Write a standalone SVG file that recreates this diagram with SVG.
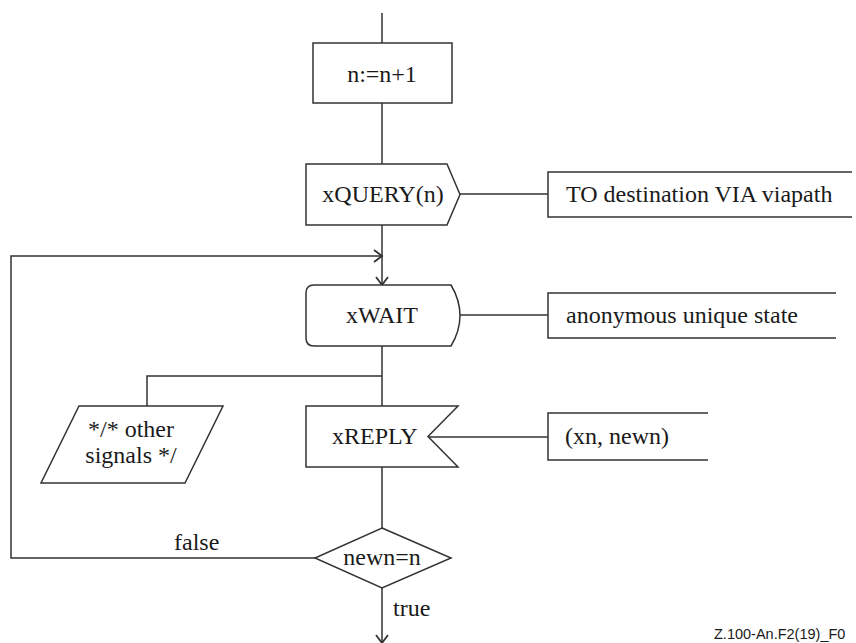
<svg xmlns="http://www.w3.org/2000/svg" width="856" height="643" viewBox="0 0 856 643">
<defs>
<style>
.s{fill:#fff;stroke:#333;stroke-width:1.5}
.c{fill:none;stroke:#333;stroke-width:1.5}
.t{font-family:"Liberation Serif","Times New Roman",serif;font-size:24px;fill:#1a1a1a}
.m{text-anchor:middle}
.f{font-family:"Liberation Sans",Arial,sans-serif;font-size:14.5px;fill:#1a1a1a}
</style>
<marker id="arr" markerWidth="14" markerHeight="14" refX="12" refY="7" orient="auto" markerUnits="userSpaceOnUse">
<path d="M4,1 L12,7 L4,13" fill="none" stroke="#333" stroke-width="1.8"/>
</marker>
</defs>
<rect width="856" height="643" fill="#fff"/>
<g id="connectors">
<line class="c" x1="382" y1="13" x2="382" y2="43"/>
<line class="c" x1="382" y1="103" x2="382" y2="164"/>
<line class="c" x1="382" y1="225" x2="382" y2="285" marker-end="url(#arr)"/>
<polyline class="c" points="315,558 11,558 11,256 382,256" marker-end="url(#arr)"/>
<line class="c" x1="460" y1="194" x2="548" y2="194"/>
<line class="c" x1="458" y1="315" x2="548" y2="315"/>
<line class="c" x1="382" y1="346" x2="382" y2="406"/>
<polyline class="c" points="382,376 147,376 147,406"/>
<line class="c" x1="428" y1="437" x2="548" y2="437"/>
<line class="c" x1="382" y1="467" x2="382" y2="528"/>
<line class="c" x1="382" y1="588" x2="382" y2="643" marker-end="url(#arr)"/>
</g>
<g id="task">
<rect class="s" x="313" y="43" width="139" height="60"/>
<text class="t m" x="382" y="82">n:=n+1</text>
</g>
<g id="output">
<path class="s" d="M306,164 L447,164 L460,194.5 L447,225 L306,225 Z"/>
<text class="t m" x="383" y="202">xQUERY(n)</text>
</g>
<g id="comment1">
<path class="c" d="M852,172 L548,172 L548,217 L852,217"/>
<text class="t" x="566" y="202">TO destination VIA viapath</text>
</g>
<g id="state">
<path class="s" d="M314,285 L451,285 Q460,300 460,315.5 Q460,331 451,346 L314,346 Q306,346 306,338 L306,293 Q306,285 314,285 Z"/>
<text class="t m" x="382" y="323">xWAIT</text>
</g>
<g id="comment2">
<path class="c" d="M836,293 L548,293 L548,338 L836,338"/>
<text class="t" x="566" y="323">anonymous unique state</text>
</g>
<g id="other">
<path class="s" d="M79,406 L223,406 L185,483 L41,483 Z"/>
<text class="t m" x="131" y="437">*/* other</text>
<text class="t m" x="131" y="463">signals */</text>
</g>
<g id="input">
<path class="s" d="M306,406 L458,406 L428,436.5 L458,467 L306,467 Z"/>
<text class="t" x="332" y="444">xREPLY</text>
</g>
<g id="comment3">
<path class="c" d="M708,413 L548,413 L548,460 L708,460"/>
<text class="t" x="565" y="444">(xn, newn)</text>
</g>
<g id="decision">
<path class="s" d="M382,528 L451,558 L382,588 L315,558 Z"/>
<text class="t m" x="382" y="565">newn=n</text>
</g>
<text class="t" x="174" y="550">false</text>
<text class="t" x="393" y="616">true</text>
<text class="f" x="714" y="639">Z.100-An.F2(19)_F0</text>
</svg>
